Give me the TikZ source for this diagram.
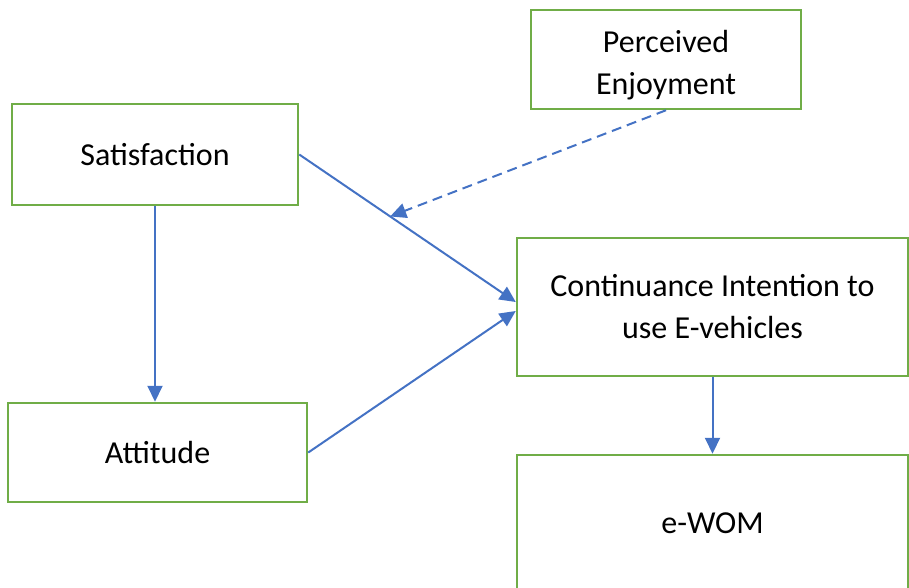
\documentclass[tikz,border=0pt]{standalone}
\usepackage{fontspec}
\setmainfont{Carlito}
\usetikzlibrary{arrows.meta}
\definecolor{boxgreen}{HTML}{70AD47}
\definecolor{linkblue}{HTML}{4472C4}
\begin{document}
\begin{tikzpicture}[x=1pt,y=1pt,
	box/.style={draw=boxgreen,line width=2.5pt,inner sep=0pt,align=center,font=\fontsize{32}{42}\selectfont},
	link/.style={draw=linkblue,line width=2pt,-{Triangle[length=16pt,width=15pt]}}]
			\clip (0,0) rectangle (909,-587);
			\draw (155,-154.5) node (sat)[box,minimum width=286pt,minimum height=101pt]{Satisfaction};
			\draw (666,-59.5) node (pe)[box,minimum width=270pt,minimum height=99pt]{\rule{0pt}{34pt}Perceived\\Enjoyment};
			\draw (712.5,-307) node (ci)[box,minimum width=391pt,minimum height=138pt]{Continuance Intention to\\use E-vehicles};
			\draw (157.5,-452.5) node (att)[box,minimum width=299pt,minimum height=99pt]{Attitude};
			\draw (712.5,-523) node (ewom)[box,minimum width=391pt,minimum height=136pt]{e-WOM};

			\draw[link] (sat.south) -- (sat.south |- att.north);
			\draw[link] (sat.east) -- ([yshift=5pt]ci.west) coordinate[pos=0.42] (mod);
			\draw[link] (att.east) -- ([yshift=-4pt]ci.west);
			\draw[link,dash pattern=on 10pt off 6pt] (pe.south) -- (mod);
			\draw[link] (ci.south) -- (ewom.north);
		\end{tikzpicture}
\end{document}
